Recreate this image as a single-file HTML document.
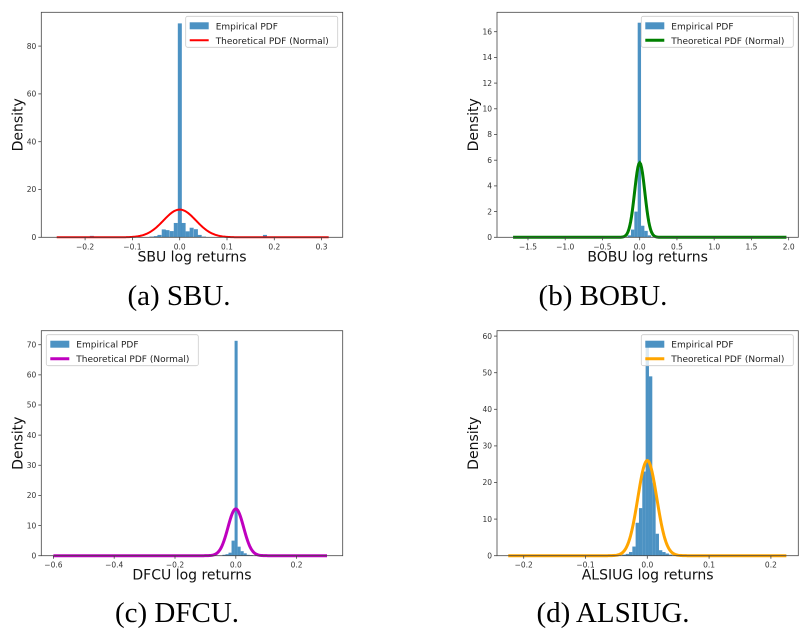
<!DOCTYPE html>
<html><head><meta charset="utf-8"><style>
body{margin:0;background:#fff;width:804px;height:636px;overflow:hidden}
svg{display:block}
.tk{font:7.5px "DejaVu Sans","Liberation Sans",sans-serif;fill:#333}
.lab{font:14px "DejaVu Sans","Liberation Sans",sans-serif;fill:#111}
.leg{font:9px "DejaVu Sans","Liberation Sans",sans-serif;fill:#222}
.cap{font:29px "Liberation Serif",serif;fill:#000}
</style></head><body>
<svg id="fig" width="804" height="636"></svg>
<script>
// ---- data ----
const aBinStarts=[-0.19,-0.064,-0.055,-0.047,-0.038,-0.030,-0.021,-0.0125,-0.004,0.004,0.0125,0.021,0.030,0.038,0.047,0.176];
const aHeights=[0.6,0.3,0.5,1.0,3.3,3.0,2.6,6.0,89.5,6.0,2.5,4.0,3.4,1.0,0.3,1.0];
const aTicksX=[-0.2,-0.1,0.0,0.1,0.2,0.3];
const aTicksY=[0,20,40,60,80];
const bBinStarts=[-0.162,-0.117,-0.072,-0.027,0.018,0.063,0.108];
const bHeights=[0.15,0.6,2.0,16.7,0.9,0.5,0.15];
const bTicksX=[-1.5,-1.0,-0.5,0.0,0.5,1.0,1.5,2.0];
const bTicksY=[0,2,4,6,8,10,12,14,16];
const cBinStarts=[-0.044,-0.034,-0.024,-0.014,-0.004,0.006,0.016,0.026,0.036,0.046];
const cHeights=[0.3,0.5,1.0,5.0,71.3,3.0,1.5,0.8,0.3,0.2];
const cTicksX=[-0.6,-0.4,-0.2,0.0,0.2];
const cTicksY=[0,10,20,30,40,50,60,70];
const dBinStarts=[-0.0405,-0.035,-0.0296,-0.0242,-0.0189,-0.0135,-0.0081,-0.0027,0.0027,0.0081,0.0135,0.0189,0.0242,0.0296,0.035];
const dHeights=[0.3,0.5,1.0,2.5,9,13,23,57,49,20,6,1.5,1.0,0.6,0.3];
const dTicksX=[-0.2,-0.1,0.0,0.1,0.2];
const dTicksY=[0,10,20,30,40,50,60];
const sigmas=[0.0344,0.0688,0.0257,0.01534];
const lineRanges=[[-0.26,0.315],[-1.7,1.97],[-0.6,0.3],[-0.225,0.225]];

const NS='http://www.w3.org/2000/svg';
const svg=document.getElementById('fig');
function mk(tag,attrs,parent){const e=document.createElementNS(NS,tag);for(const k in attrs)e.setAttribute(k,attrs[k]);(parent||svg).appendChild(e);return e;}

const panels=[
 {id:'sbu',box:[41.3,12.3,342.7,237.3],x0:179.7,xs:473,ys:2.39,starts:aBinStarts,hs:aHeights,w:0.0085,tx:aTicksX,ty:aTicksY,col:'#ff0000',lw:2,xl:'SBU log returns',leg:'right',cap:'(a) SBU.',capX:179,capY:305},
 {id:'bobu',box:[497,12.3,798.3,237.3],x0:639.7,xs:74.48,ys:12.85,starts:bBinStarts,hs:bHeights,w:0.045,tx:bTicksX,ty:bTicksY,col:'#008000',lw:3,xl:'BOBU log returns',leg:'right',cap:'(b) BOBU.',capX:603,capY:305},
 {id:'dfcu',box:[41.3,330.7,342.7,555.7],x0:235.8,xs:304,ys:3.014,starts:cBinStarts,hs:cHeights,w:0.01,tx:cTicksX,ty:cTicksY,col:'#bf00bf',lw:3,xl:'DFCU log returns',leg:'left',cap:'(c) DFCU.',capX:177,capY:622},
 {id:'alsiug',box:[497,330.7,798.3,555.7],x0:647.3,xs:618,ys:3.66,starts:dBinStarts,hs:dHeights,w:0.0054,tx:dTicksX,ty:dTicksY,col:'#ffa500',lw:3,xl:'ALSIUG log returns',leg:'right',cap:'(d) ALSIUG.',capX:613,capY:622}
];
function fmt(v){let s=v.toFixed(1);if(s==='-0.0')s='0.0';return s.replace('-','\u2212');}

panels.forEach((p,i)=>{
 const [L,T,R,B]=p.box;
 const X=v=>p.x0+v*p.xs, Y=v=>B-v*p.ys;
 const g=mk('g',{});
 
 
 p.starts.forEach((s,j)=>{
  const r=mk('rect',{x:X(s),y:Y(p.hs[j]),width:p.w*p.xs,height:p.hs[j]*p.ys,fill:'#1f77b4','fill-opacity':0.8},g);
  
  
 });
 const sg=sigmas[i],[a,b]=lineRanges[i];let d='';
 for(let k=0;k<=300;k++){const x=a+(b-a)*k/300;const y=Math.exp(-x*x/(2*sg*sg))/(sg*Math.sqrt(2*Math.PI));d+=(k?'L':'M')+X(x).toFixed(2)+','+Y(y).toFixed(2);}
 const pl=mk('path',{d:d,fill:'none',stroke:p.col,'stroke-width':p.lw},g);
 
 
 const fr=mk('rect',{x:L,y:T,width:R-L,height:B-T,fill:'none',stroke:'#444','stroke-width':0.8},g);
 
 
 p.tx.forEach(v=>{mk('line',{x1:X(v),x2:X(v),y1:B,y2:B+3,stroke:'#444','stroke-width':0.8},g);
  const t=mk('text',{x:X(v),y:B+12,'text-anchor':'middle',class:'tk'},g);t.textContent=fmt(v);
  
  });
 p.ty.forEach(v=>{mk('line',{x1:L-3,x2:L,y1:Y(v),y2:Y(v),stroke:'#444','stroke-width':0.8},g);
  const t=mk('text',{x:L-5,y:Y(v)+2.7,'text-anchor':'end',class:'tk'},g);t.textContent=v;
  
  });
 const xl=mk('text',{x:(L+R)/2,y:B+24,'text-anchor':'middle',class:'lab'},g);xl.textContent=p.xl;
 
 
 const yx=L-19,yy=(T+B)/2;
 const yl=mk('text',{x:yx,y:yy,'text-anchor':'middle',class:'lab',transform:`rotate(-90 ${yx} ${yy})`},g);yl.textContent='Density';
 
 
 // legend
 const lw=152,lh=31,lx=p.leg==='right'?R-lw-5:L+5,ly=T+4;
 const lg=mk('g',{},g);
 
 
 mk('rect',{x:lx,y:ly,width:lw,height:lh,rx:2,fill:'#fff','fill-opacity':0.8,stroke:'#ccc','stroke-width':0.8},lg);
 mk('rect',{x:lx+4,y:ly+6,width:19,height:7,fill:'#1f77b4','fill-opacity':0.8},lg);
 const t1=mk('text',{x:lx+30,y:ly+13,class:'leg'},lg);t1.textContent='Empirical PDF';
 
 
 mk('line',{x1:lx+4,x2:lx+23,y1:ly+24,y2:ly+24,stroke:p.col,'stroke-width':p.lw},lg);
 const t2=mk('text',{x:lx+30,y:ly+27.5,class:'leg'},lg);t2.textContent='Theoretical PDF (Normal)';
 
 
 const cp=mk('text',{x:p.capX,y:p.capY,'text-anchor':'middle',class:'cap'});cp.textContent=p.cap;
 
 
});
</script>
</body></html>
